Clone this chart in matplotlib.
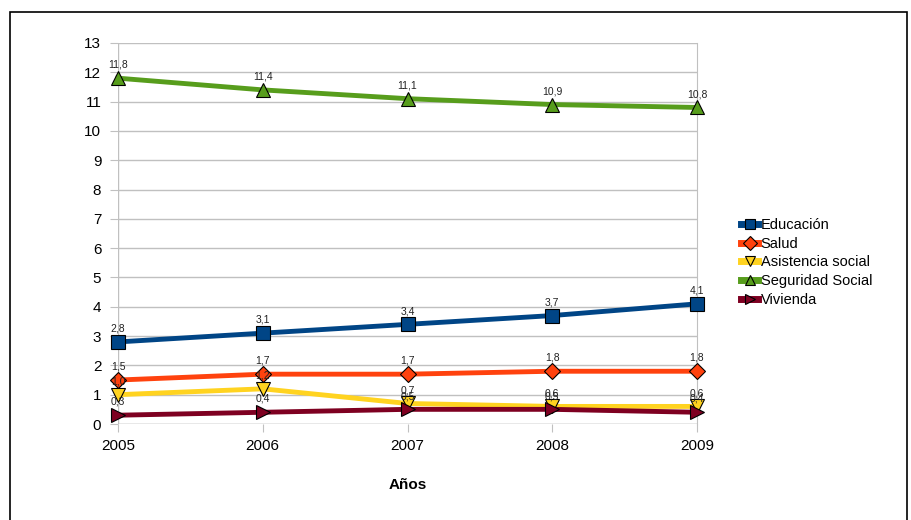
import matplotlib.pyplot as plt
from matplotlib.lines import Line2D
from matplotlib.patches import Rectangle

plt.rcParams["font.family"] = ["Liberation Sans", "DejaVu Sans"]

years = [2005, 2006, 2007, 2008, 2009]
educacion = [2.8, 3.1, 3.4, 3.7, 4.1]
salud = [1.5, 1.7, 1.7, 1.8, 1.8]
asistencia = [1.0, 1.2, 0.7, 0.6, 0.6]
seguridad = [11.8, 11.4, 11.1, 10.9, 10.8]
vivienda = [0.3, 0.4, 0.5, 0.5, 0.4]

SERIES = [
    ("Educación", educacion, "#004586", "s", 10),
    ("Salud", salud, "#ff420e", "D", 8),
    ("Asistencia social", asistencia, "#ffd320", "v", 10),
    ("Seguridad Social", seguridad, "#579d1c", "^", 10),
    ("Vivienda", vivienda, "#7e0021", ">", 10),
]


def fmt(v):
    return f"{v:.1f}".replace(".", ",")


fig = plt.figure(figsize=(9.12, 5.2), dpi=100)
fig.patches.append(Rectangle((10 / 912, -0.05), 897 / 912, 1 - 12 / 520 + 0.05,
                             transform=fig.transFigure, fill=False,
                             edgecolor="black", linewidth=1.2))
ax = fig.add_axes([118 / 912, 1 - 424 / 520, (697 - 118) / 912, (424 - 43) / 520])

for name, vals, color, marker, ms in SERIES:
    ax.plot(years, vals, color=color, linewidth=3.5, marker=marker, markersize=ms,
            markerfacecolor=color, markeredgecolor="black", markeredgewidth=0.8,
            label=name, clip_on=False, zorder=3)
    for x, v in zip(years, vals):
        ax.annotate(fmt(v), (x, v), xytext=(0, 6), textcoords="offset points",
                    ha="center", va="bottom", fontsize=7.5, color="#222222",
                    zorder=4, annotation_clip=False)

ax.set_xlim(2005, 2009)
ax.set_ylim(0, 13)
ax.set_xticks(years)
ax.set_yticks(range(0, 14))
ax.grid(axis="y", color="#c0c0c0", linewidth=1)
ax.set_axisbelow(True)
for side in ["top", "left", "bottom"]:
    ax.spines[side].set_visible(False)
ax.spines["right"].set_color("#c0c0c0")
ax.axvline(2005, color="#c0c0c0", linewidth=1, zorder=0)
ax.axhline(0, color="#c0c0c0", linewidth=1, zorder=0)
ax.tick_params(axis="y", length=6, color="#c0c0c0", labelsize=11, pad=6)
ax.tick_params(axis="x", length=6, color="#c0c0c0", labelsize=11, pad=5)
ax.set_xlabel("Años", fontsize=11, fontweight="bold", labelpad=18)

handles = [Line2D([0], [0], color=c, linewidth=5, marker=m, markersize=7,
                  markerfacecolor=c, markeredgecolor="black", markeredgewidth=0.8)
           for _, _, c, m, _ in SERIES]
fig.legend(handles, [s[0] for s in SERIES], loc="upper left",
           bbox_to_anchor=(735 / 912, 1 - 212 / 520), frameon=False,
           fontsize=10.5, handlelength=1.2, handletextpad=0.15, labelspacing=0.33,
           borderaxespad=0)

fig.savefig("out.png", dpi=100, facecolor="white")
